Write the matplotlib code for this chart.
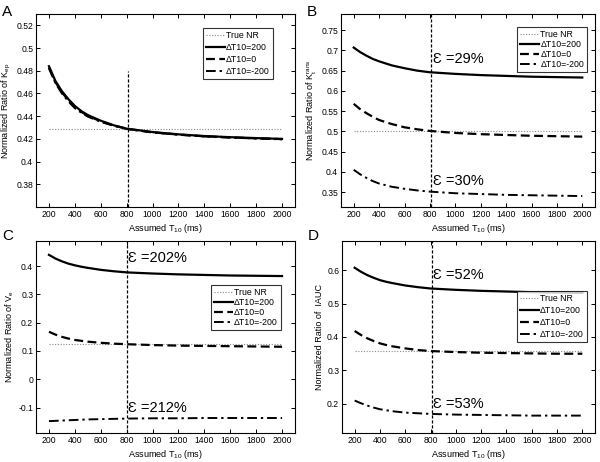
import matplotlib
matplotlib.use("Agg")
import matplotlib.pyplot as plt
from matplotlib.ticker import FuncFormatter

plt.rcParams['font.family'] = ['Liberation Sans', 'DejaVu Sans']
plt.rcParams['mathtext.fontset'] = 'custom'
plt.rcParams['mathtext.rm'] = 'Liberation Sans'
plt.rcParams['mathtext.it'] = 'Liberation Sans'

# ---------------- data ----------------
t10 = [200, 250, 300, 350, 400, 450, 500, 600, 700, 800, 1000, 1200, 1400, 1600, 1800, 2000]
series_labels = ["True NR", "ΔT10=200", "ΔT10=0", "ΔT10=-200"]
xticks = [200, 400, 600, 800, 1000, 1200, 1400, 1600, 1800, 2000]

# Panel A: Kep
kep_true = 0.4285
kep_p200 = [0.484, 0.471, 0.462, 0.455, 0.449, 0.4445, 0.441, 0.436, 0.432, 0.429, 0.426, 0.424, 0.4225, 0.4215, 0.4207, 0.420]
kep_0 = [0.483, 0.470, 0.461, 0.454, 0.448, 0.4438, 0.4403, 0.4355, 0.4318, 0.4289, 0.4258, 0.4238, 0.4223, 0.4213, 0.4205, 0.4198]
kep_m200 = [0.482, 0.469, 0.460, 0.453, 0.447, 0.4431, 0.4396, 0.435, 0.4315, 0.4287, 0.4256, 0.4236, 0.4221, 0.4211, 0.4203, 0.4196]

# Panel B: Ktrans
ktr_true = 0.50
ktr_p200 = [0.707, 0.696, 0.687, 0.679, 0.673, 0.668, 0.663, 0.656, 0.650, 0.646, 0.642, 0.639, 0.637, 0.635, 0.634, 0.633]
ktr_0 = [0.568, 0.555, 0.545, 0.536, 0.528, 0.523, 0.518, 0.510, 0.505, 0.501, 0.496, 0.493, 0.491, 0.489, 0.488, 0.487]
ktr_m200 = [0.405, 0.394, 0.385, 0.377, 0.371, 0.367, 0.363, 0.358, 0.354, 0.351, 0.347, 0.345, 0.343, 0.342, 0.341, 0.340]

# Panel C: Ve
ve_true = 0.125
ve_p200 = [0.440, 0.427, 0.417, 0.409, 0.403, 0.398, 0.394, 0.387, 0.382, 0.378, 0.374, 0.371, 0.369, 0.367, 0.366, 0.365]
ve_0 = [0.168, 0.158, 0.150, 0.144, 0.139, 0.136, 0.133, 0.129, 0.126, 0.124, 0.121, 0.119, 0.118, 0.117, 0.116, 0.115]
ve_m200 = [-0.148, -0.147, -0.146, -0.145, -0.144, -0.143, -0.142, -0.141, -0.140, -0.139, -0.138, -0.138, -0.137, -0.137, -0.137, -0.137]

# Panel D: IAUC
iauc_true = 0.358
iauc_p200 = [0.607, 0.595, 0.585, 0.577, 0.570, 0.565, 0.561, 0.554, 0.549, 0.545, 0.541, 0.538, 0.536, 0.534, 0.533, 0.532]
iauc_0 = [0.418, 0.406, 0.396, 0.388, 0.381, 0.376, 0.372, 0.366, 0.361, 0.358, 0.355, 0.353, 0.352, 0.351, 0.350, 0.350]
iauc_m200 = [0.210, 0.202, 0.195, 0.189, 0.184, 0.181, 0.178, 0.174, 0.172, 0.170, 0.168, 0.167, 0.166, 0.165, 0.165, 0.165]

# annotations
eps_B = [(0.678, "Ɛ =29%"), (0.377, "Ɛ =30%")]
eps_C = [(0.428, "Ɛ =202%"), (-0.103, "Ɛ =212%")]
eps_D = [(0.585, "Ɛ =52%"), (0.200, "Ɛ =53%")]

panels = [
    dict(letter="A", ylabel="Normalized Ratio of K$_{\\mathregular{ep}}$",
         true=kep_true, s=[kep_p200, kep_0, kep_m200], ylim=(0.36, 0.53),
         yticks=[0.38, 0.40, 0.42, 0.44, 0.46, 0.48, 0.50, 0.52],
         vline=(810, 0.36, 0.48), eps=[],
         rect=[36, 14, 295, 207], leg=(0.915, 0.927), lsp=0.35),
    dict(letter="B", ylabel="Normalized Ratio of K$_{\\mathregular{t}}^{\\mathregular{rans}}$",
         true=ktr_true, s=[ktr_p200, ktr_0, ktr_m200], ylim=(0.313, 0.79),
         yticks=[0.35, 0.40, 0.45, 0.50, 0.55, 0.60, 0.65, 0.70, 0.75],
         vline=(810, None, None), eps=eps_B,
         rect=[341, 14, 595, 207], leg=(0.969, 0.933), lsp=0.12),
    dict(letter="C", ylabel="Normalized Ratio of V$_{\\mathregular{e}}$",
         true=ve_true, s=[ve_p200, ve_0, ve_m200], ylim=(-0.19, 0.489),
         yticks=[-0.1, 0.0, 0.1, 0.2, 0.3, 0.4],
         vline=(800, None, None), eps=eps_C,
         rect=[36, 241, 295, 433], leg=(0.946, 0.771), lsp=0.12),
    dict(letter="D", ylabel="Normalized Ratio of  IAUC",
         true=iauc_true, s=[iauc_p200, iauc_0, iauc_m200], ylim=(0.113, 0.687),
         yticks=[0.2, 0.3, 0.4, 0.5, 0.6],
         vline=(810, None, None), eps=eps_D,
         rect=[342, 241, 595, 433], leg=(0.968, 0.74), lsp=0.35),
]

W, H = 600, 462
fig = plt.figure(figsize=(W / 100, H / 100), dpi=100)
fmt = FuncFormatter(lambda v, p: ("%g" % round(v, 4)))

styles = [dict(ls="-", lw=1.6), dict(ls=(0, (4, 2)), lw=1.6), dict(ls=(0, (5, 2, 1.2, 2)), lw=1.4)]

for p in panels:
    l, t, r, b = p["rect"]
    ax = fig.add_axes([l / W, 1 - b / H, (r - l) / W, (b - t) / H])
    hs = []
    h0, = ax.plot([t10[0], t10[-1]], [p["true"], p["true"]], ls=(0, (1, 1.5)), lw=0.8, color="#8a8a8a")
    hs.append(h0)
    for y, st in zip(p["s"], styles):
        h, = ax.plot(t10, y, color="black", **st)
        hs.append(h)
    vx, v0, v1 = p["vline"]
    ylo, yhi = p["ylim"]
    ax.plot([vx, vx], [v0 if v0 is not None else ylo, v1 if v1 is not None else yhi],
            color="black", ls=(0, (2.5, 1.5)), lw=0.9)
    for (yy, txt) in p["eps"]:
        ax.text(vx + 12, yy, txt, fontsize=10.5, va="center", ha="left")
    ax.set_xlim(100, 2100)
    ax.set_ylim(*p["ylim"])
    ax.set_xticks(xticks)
    ax.set_yticks(p["yticks"])
    ax.yaxis.set_major_formatter(fmt)
    ax.tick_params(direction="in", top=True, right=True, length=3, width=0.7,
                   labelsize=6.2, pad=2)
    for sp in ax.spines.values():
        sp.set_linewidth(0.8)
    ax.set_xlabel("Assumed T$_{\\mathregular{10}}$ (ms)", fontsize=6.5, labelpad=2)
    ax.set_ylabel(p["ylabel"], fontsize=6.5, labelpad=2)
    leg = ax.legend(hs, series_labels, loc="upper right", bbox_to_anchor=p["leg"],
                    borderaxespad=0, fontsize=6.3, frameon=True, fancybox=False,
                    handlelength=2.2, handletextpad=0.1, labelspacing=p["lsp"],
                    borderpad=0.35)
    leg.get_frame().set_edgecolor("black")
    leg.get_frame().set_linewidth(0.8)
    fig.text((l - 34) / W, 1 - (t - 9) / H if t < 100 else 1 - (t - 12) / H, p["letter"],
             fontsize=11, ha="left", va="top")

fig.savefig("out.png", dpi=100)
